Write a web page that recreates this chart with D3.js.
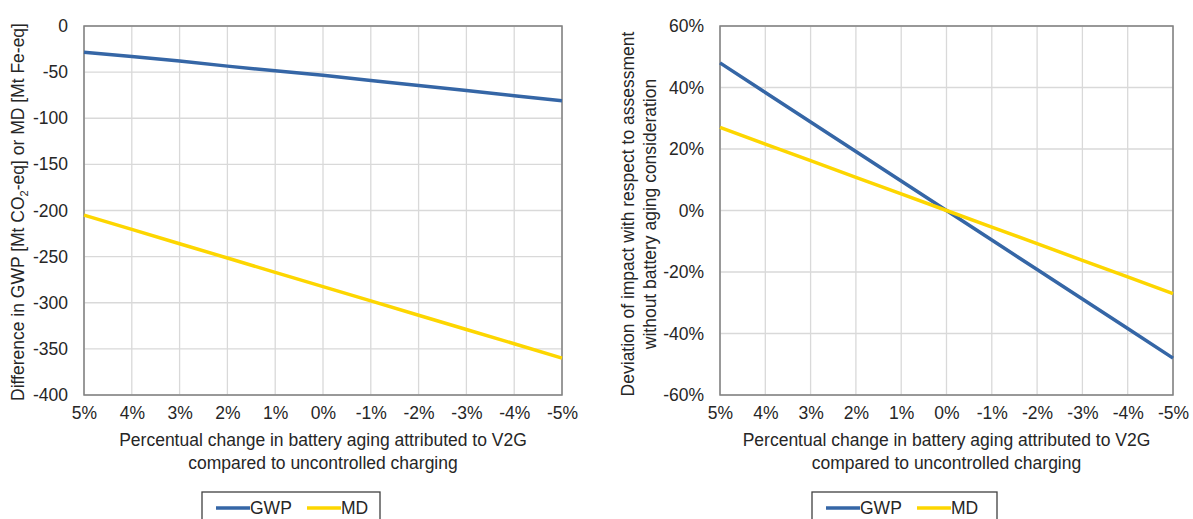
<!DOCTYPE html>
<html>
<head>
<meta charset="utf-8">
<script src="https://cdn.jsdelivr.net/npm/d3@7"></script>
<style>
  html, body { margin: 0; padding: 0; background: #fff; }
  svg { display: block; font-family: "Liberation Sans", Arial, sans-serif; }
</style>
</head>
<body>
<svg id="chart" width="1193" height="519"></svg>
<script>
// Percentual change in battery aging (x categories, left to right)
const agingChange = [5, 4, 3, 2, 1, 0, -1, -2, -3, -4, -5];
const tickLabels = ["5%", "4%", "3%", "2%", "1%", "0%", "-1%", "-2%", "-3%", "-4%", "-5%"];

// Absolute difference: GWP [Mt CO2-eq] and MD [Mt Fe-eq]
const gwpDiff = [-28.5, -33, -38, -43.5, -48.5, -53.5, -59, -64.5, -70, -75.5, -81];
const mdDiff = [-205, -220.5, -236, -251.5, -267, -282.5, -298, -313.5, -329, -344.5, -360];

// Relative deviation with respect to assessment without battery aging
const gwpDev = [0.48, 0.384, 0.288, 0.192, 0.096, 0, -0.096, -0.192, -0.288, -0.384, -0.48];
const mdDev = [0.27, 0.216, 0.162, 0.108, 0.054, 0, -0.054, -0.108, -0.162, -0.216, -0.27];

const leftTicks = [0, -50, -100, -150, -200, -250, -300, -350, -400];
const rightTicks = [0.6, 0.4, 0.2, 0, -0.2, -0.4, -0.6];

const colors = { GWP: "#3566A6", MD: "#FDD600" };

const svg = d3.select("#chart");
const fontSize = 17.5;
const textColor = "#262626";

function panel(opts) {
  const g = svg.append("g");
  const x = d3.scaleLinear().domain([5, -5]).range([opts.x0, opts.x1]);
  const y = d3.scaleLinear().domain(opts.yDomain).range([opts.yBottom, opts.yTop]);

  // Grid lines
  g.append("g").selectAll("line").data(agingChange).join("line")
    .attr("x1", d => x(d)).attr("x2", d => x(d))
    .attr("y1", opts.yTop).attr("y2", opts.yBottom)
    .attr("stroke", "#d9d9d9").attr("stroke-width", 1.3);
  g.append("g").selectAll("line").data(opts.yTicks).join("line")
    .attr("x1", opts.x0).attr("x2", opts.x1)
    .attr("y1", d => y(d)).attr("y2", d => y(d))
    .attr("stroke", "#d9d9d9").attr("stroke-width", 1.3);

  // Plot frame
  g.append("rect")
    .attr("x", opts.x0).attr("y", opts.yTop)
    .attr("width", opts.x1 - opts.x0).attr("height", opts.yBottom - opts.yTop)
    .attr("fill", "none").attr("stroke", "#808080").attr("stroke-width", 1.5);

  // Y axis
  const yAxis = d3.axisLeft(y).tickValues(opts.yTicks).tickSize(0).tickPadding(16)
    .tickFormat(opts.yFormat);
  const ya = g.append("g").attr("transform", `translate(${opts.x0},0)`).call(yAxis);
  ya.select(".domain").remove();
  ya.selectAll("text").attr("font-size", fontSize).attr("fill", textColor)
    .attr("font-family", "Liberation Sans, Arial, sans-serif");

  // X axis
  const xAxis = d3.axisBottom(x).tickValues(agingChange).tickSize(0).tickPadding(12)
    .tickFormat((d, i) => tickLabels[i]);
  const xa = g.append("g").attr("transform", `translate(0,${opts.yBottom})`).call(xAxis);
  xa.select(".domain").remove();
  xa.selectAll("text").attr("font-size", fontSize).attr("fill", textColor)
    .attr("font-family", "Liberation Sans, Arial, sans-serif");

  // Series lines
  const line = d3.line().x((d, i) => x(agingChange[i])).y(d => y(d));
  opts.series.forEach(s => {
    g.append("path").datum(s.values)
      .attr("d", line).attr("fill", "none")
      .attr("stroke", colors[s.name]).attr("stroke-width", 3.5)
      .attr("stroke-linejoin", "round");
  });

  // X axis title
  const cx = (opts.x0 + opts.x1) / 2;
  const xt = g.append("text").attr("text-anchor", "middle")
    .attr("font-size", fontSize).attr("fill", textColor);
  xt.append("tspan").attr("x", cx).attr("y", 446)
    .text("Percentual change in battery aging attributed to V2G");
  xt.append("tspan").attr("x", cx).attr("y", 469)
    .text("compared to uncontrolled charging");

  // Legend
  const lg = g.append("g").attr("transform", `translate(${opts.legendX},492)`);
  lg.append("rect").attr("x", 0).attr("y", 0).attr("width", opts.legendW).attr("height", 32)
    .attr("fill", "#fff").attr("stroke", "#404040").attr("stroke-width", 1.3);
  const items = [
    { name: "GWP", lx: 14, tx: 48 },
    { name: "MD", lx: 105, tx: 139 }
  ];
  items.forEach(it => {
    lg.append("line").attr("x1", it.lx).attr("x2", it.lx + 34)
      .attr("y1", 16).attr("y2", 16)
      .attr("stroke", colors[it.name]).attr("stroke-width", 3.5);
    lg.append("text").attr("x", it.tx).attr("y", 22)
      .attr("font-size", fontSize).attr("fill", textColor).text(it.name);
  });

  return { g, x, y };
}

// Left panel: absolute differences
const left = panel({
  x0: 84, x1: 562, yTop: 26, yBottom: 395,
  yDomain: [-400, 0], yTicks: leftTicks,
  yFormat: d => d3.format("d")(d).replace("−", "-"),
  series: [{ name: "GWP", values: gwpDiff }, { name: "MD", values: mdDiff }],
  legendX: 202, legendW: 178
});

const lt = left.g.append("text")
  .attr("transform", "translate(24,212) rotate(-90)")
  .attr("text-anchor", "middle").attr("font-size", fontSize).attr("fill", textColor);
lt.append("tspan").text("Difference in GWP [Mt CO");
lt.append("tspan").attr("font-size", 11).attr("dy", 4).text("2");
lt.append("tspan").attr("dy", -4).text("-eq] or MD [Mt Fe-eq]");

// Right panel: relative deviation
const right = panel({
  x0: 720, x1: 1173, yTop: 26, yBottom: 395,
  yDomain: [-0.6, 0.6], yTicks: rightTicks,
  yFormat: d => d3.format(".0%")(d).replace("−", "-"),
  series: [{ name: "GWP", values: gwpDev }, { name: "MD", values: mdDev }],
  legendX: 812, legendW: 185
});

const rt = right.g.append("text")
  .attr("transform", "translate(640,214) rotate(-90)")
  .attr("text-anchor", "middle").attr("font-size", fontSize).attr("fill", textColor);
rt.append("tspan").attr("x", 0).attr("y", -6).text("Deviation of impact with respect to assessment");
rt.append("tspan").attr("x", 0).attr("y", 16).text("without battery aging consideration");
</script>
</body>
</html>
